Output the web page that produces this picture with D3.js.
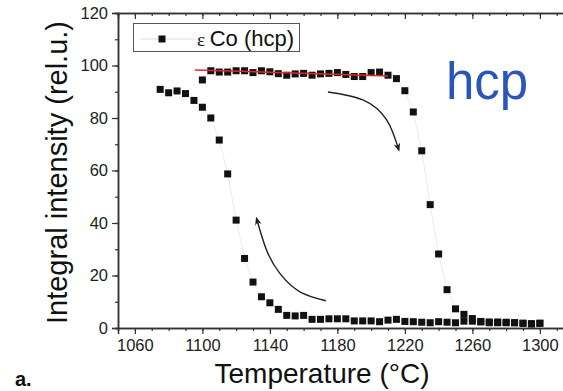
<!DOCTYPE html>
<html>
<head>
<meta charset="utf-8">
<script src="https://cdn.jsdelivr.net/npm/d3@7"></script>
<style>
  body { margin: 0; background: #fff; }
  svg { display: block; font-family: Arial, "Liberation Sans", sans-serif; }
</style>
</head>
<body>
<svg id="chart" width="563" height="391"></svg>
<script>
// heating run (hcp -> fcc)
const heatT = [1100, 1105, 1110, 1115, 1120, 1125, 1130, 1135, 1140, 1145, 1150, 1155, 1160, 1165, 1170, 1175,
  1180, 1185, 1190, 1195, 1200, 1205, 1210, 1215, 1220, 1225, 1230, 1235, 1240, 1245, 1250, 1255, 1260, 1265,
  1270, 1275, 1280, 1285, 1290, 1295, 1300];
const heatI = [94.5, 98.0, 97.5, 97.5, 98.0, 98.0, 97.3, 98.0, 97.6, 96.9, 96.3, 96.8, 97.0, 96.3, 96.8, 97.0,
  97.3, 96.6, 95.8, 95.8, 97.3, 97.5, 96.3, 95.0, 90.4, 82.3, 67.5, 47.0, 28.2, 14.6, 7.3, 5.2, 3.6, 2.5,
  2.3, 2.3, 2.2, 2.0, 1.8, 1.6, 1.8];

// cooling run
const coolT = [1075, 1080, 1085, 1090, 1095, 1100, 1105, 1110, 1115, 1120, 1125, 1130, 1135, 1140, 1145, 1150,
  1155, 1160, 1165, 1170, 1175, 1180, 1185, 1190, 1195, 1200, 1205, 1210, 1215, 1220, 1225, 1230, 1235, 1240,
  1245, 1250, 1255, 1260, 1265, 1270, 1275, 1280, 1285, 1290, 1295, 1300];
const coolI = [90.9, 89.6, 90.3, 89.3, 86.7, 84.1, 80.0, 71.6, 58.7, 41.1, 26.5, 17.5, 11.9, 9.6, 7.1, 4.8,
  4.6, 4.8, 3.3, 3.3, 3.5, 3.5, 3.5, 2.7, 2.7, 2.7, 2.4, 3.0, 3.3, 2.5, 2.4, 2.2, 2.0, 2.4,
  2.2, 2.0, 2.6, 2.6, 2.3, 2.0, 2.0, 2.0, 2.0, 1.8, 1.6, 1.8];

// linear fit of the plateau
const fitT = [1095.6, 1210];
const fitI = [98.3, 96.0];

// arrow paths (data units)
const arrowDownT = [1174.4, 1195.1, 1209.3, 1216.4];
const arrowDownI = [89.9, 86.9, 79.2, 67.8];
const arrowUpT = [1173.2, 1157.8, 1145.9, 1138.0, 1132.1];
const arrowUpI = [10.4, 13.8, 20.8, 29.7, 41.8];

const xTicks = [1060, 1100, 1140, 1180, 1220, 1260, 1300];
const yTicks = [0, 20, 40, 60, 80, 100, 120];

const margin = { top: 13, left: 118, bottom: 63 };
const W = 563, H = 391;
const height = H - margin.top - margin.bottom;

const svg = d3.select('#chart');

const x = d3.scaleLinear().domain([1050, 1320]).range([margin.left, margin.left + 270 * 1.6875]);
const y = d3.scaleLinear().domain([0, 120]).range([margin.top + height, margin.top]);

const axisColor = '#333';

svg.append('defs').append('marker')
  .attr('id', 'head')
  .attr('viewBox', '0 0 10 10')
  .attr('refX', 8).attr('refY', 5)
  .attr('markerWidth', 6).attr('markerHeight', 6)
  .attr('orient', 'auto')
  .append('path')
  .attr('d', 'M0,1 L10,5 L0,9 L3,5 Z')
  .attr('fill', '#222');

// minor ticks
const minorX = d3.range(1050, 1321, 10);
const minorY = d3.range(0, 121, 10);

// bottom axis
svg.append('g')
  .attr('transform', 'translate(0,' + y(0) + ')')
  .call(d3.axisBottom(x).tickValues(xTicks).tickSize(6).tickPadding(5).tickFormat(d3.format('d')));
svg.append('g')
  .attr('transform', 'translate(0,' + y(0) + ')')
  .call(d3.axisBottom(x).tickValues(minorX).tickSize(3).tickFormat(''));

// top axis, ticks inward
svg.append('g')
  .attr('transform', 'translate(0,' + y(120) + ')')
  .call(d3.axisBottom(x).tickValues(xTicks).tickSize(6).tickFormat(''));
svg.append('g')
  .attr('transform', 'translate(0,' + y(120) + ')')
  .call(d3.axisBottom(x).tickValues(minorX).tickSize(3).tickFormat(''));

// left axis
svg.append('g')
  .attr('transform', 'translate(' + x(1050) + ',0)')
  .call(d3.axisLeft(y).tickValues(yTicks).tickSize(6).tickPadding(4));
svg.append('g')
  .attr('transform', 'translate(' + x(1050) + ',0)')
  .call(d3.axisLeft(y).tickValues(minorY).tickSize(3).tickFormat(''));

svg.selectAll('.domain').attr('stroke', axisColor).attr('stroke-width', 1.5);
svg.selectAll('.tick line').attr('stroke', axisColor).attr('stroke-width', 1.2);
svg.selectAll('.tick text').attr('fill', '#222').style('font-size', '16.5px');

const heat = heatT.map((t, i) => ({ t: t, v: heatI[i] }));
const cool = coolT.map((t, i) => ({ t: t, v: coolI[i] }));

const line = d3.line().x(d => x(d.t)).y(d => y(d.v));

// faint connecting lines
[heat, cool].forEach(s => {
  svg.append('path').datum(s)
    .attr('d', line)
    .attr('fill', 'none')
    .attr('stroke', '#ececec')
    .attr('stroke-width', 1);
});

const sq = 7;
[cool, heat].forEach(s => {
  svg.append('g').selectAll('rect')
    .data(s)
    .enter().append('rect')
    .attr('x', d => x(d.t) - sq / 2)
    .attr('y', d => y(d.v) - sq / 2)
    .attr('width', sq)
    .attr('height', sq)
    .attr('fill', '#111');
});

// fit line on top of the squares
svg.append('line')
  .attr('x1', x(fitT[0])).attr('y1', y(fitI[0]))
  .attr('x2', x(fitT[1])).attr('y2', y(fitI[1]))
  .attr('stroke', '#e3262a').attr('stroke-width', 1.5);

// arrows
const curve = d3.line().x(d => x(d[0])).y(d => y(d[1])).curve(d3.curveNatural);
[[arrowDownT, arrowDownI], [arrowUpT, arrowUpI]].forEach(a => {
  svg.append('path')
    .datum(a[0].map((t, i) => [t, a[1][i]]))
    .attr('d', curve)
    .attr('fill', 'none')
    .attr('stroke', '#222')
    .attr('stroke-width', 1.4)
    .attr('marker-end', 'url(#head)');
});

// legend
const lg = svg.append('g');
lg.append('rect')
  .attr('x', 133.5).attr('y', 23.5).attr('width', 166).attr('height', 28)
  .attr('fill', '#fff').attr('stroke', '#555').attr('stroke-width', 1);
lg.append('line')
  .attr('x1', 140).attr('x2', 196).attr('y1', 39).attr('y2', 39)
  .attr('stroke', '#ddd').attr('stroke-width', 1);
lg.append('rect')
  .attr('x', 162 - sq / 2).attr('y', 39 - sq / 2).attr('width', sq).attr('height', sq)
  .attr('fill', '#111');
const lt = lg.append('text').attr('x', 197).attr('y', 46).attr('fill', '#111').style('font-size', '22px');
lt.append('tspan').style('font-family', '"Liberation Serif", "DejaVu Serif", serif').style('font-size', '19px').text('ε ');
lt.append('tspan').text('Co (hcp)');

// hcp label
svg.append('text')
  .attr('x', 446).attr('y', 99)
  .attr('fill', '#2a56b8')
  .style('font-size', '51px')
  .text('hcp');

// axis titles
svg.append('text')
  .attr('transform', 'translate(67,' + (margin.top + height / 2 + 2) + ') rotate(-90)')
  .attr('text-anchor', 'middle')
  .attr('fill', '#111')
  .style('font-size', '29px')
  .text('Integral intensity (rel.u.)');

svg.append('text')
  .attr('x', 322).attr('y', 383)
  .attr('text-anchor', 'middle')
  .attr('fill', '#111')
  .style('font-size', '28px')
  .text('Temperature (°C)');

svg.append('text')
  .attr('x', 15).attr('y', 386)
  .attr('fill', '#111')
  .style('font-size', '20px')
  .style('font-weight', 'bold')
  .text('a.');
</script>
</body>
</html>
